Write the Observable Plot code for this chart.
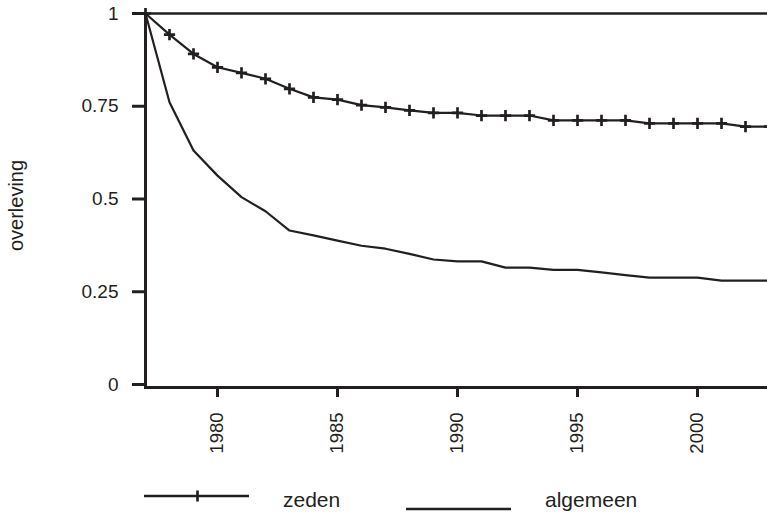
<!DOCTYPE html>
<html>
<head>
<meta charset="utf-8">
<script src="https://cdn.jsdelivr.net/npm/d3@7"></script>
<script src="https://cdn.jsdelivr.net/npm/@observablehq/plot@0.6"></script>
<style>
  body { margin: 0; background: #fff; overflow: hidden; font-family: "Liberation Sans", Arial, sans-serif; }
  #chart svg, #legend svg { display: block; }
</style>
</head>
<body>
<div id="chart"></div>
<div id="legend"></div>
<script>
const years = [1977, 1978, 1979, 1980, 1981, 1982, 1983, 1984, 1985, 1986, 1987, 1988, 1989,
               1990, 1991, 1992, 1993, 1994, 1995, 1996, 1997, 1998, 1999, 2000, 2001, 2002, 2003];
const zeden = [1, 0.943, 0.891, 0.855, 0.840, 0.824, 0.797, 0.774, 0.768, 0.753, 0.747, 0.739, 0.732,
               0.732, 0.725, 0.725, 0.725, 0.712, 0.712, 0.712, 0.712, 0.704, 0.704, 0.704, 0.704, 0.695, 0.695];
const algemeen = [1, 0.761, 0.631, 0.563, 0.505, 0.467, 0.415, 0.402, 0.388, 0.374, 0.366, 0.352, 0.337,
                  0.332, 0.332, 0.315, 0.315, 0.309, 0.309, 0.302, 0.295, 0.288, 0.288, 0.288, 0.280, 0.280, 0.280];
const xTicks = [1980, 1985, 1990, 1995, 2000];
const yTicks = [0, 0.25, 0.5, 0.75, 1];
const seriesNames = ["zeden", "algemeen"];
const yLabel = "overleving";

const ink = "#231f20";
const font = "'Liberation Sans', Arial, Helvetica, sans-serif";

const rowsZeden = years.map((year, i) => ({year, value: zeden[i]}));
const rowsAlgemeen = years.map((year, i) => ({year, value: algemeen[i]}));

const chart = Plot.plot({
  width: 767,
  height: 460,
  marginTop: 13,
  marginBottom: 73,
  marginLeft: 145,
  marginRight: 0,
  style: {fontFamily: font, color: ink, background: "#fff"},
  x: {domain: [1977, 2003], range: [145, 769]},
  y: {domain: [0, 1], insetBottom: 3},
  marks: [
    Plot.ruleY([1], {stroke: ink, strokeWidth: 2.5}),
    Plot.frame({anchor: "left", stroke: ink, strokeWidth: 3}),
    Plot.frame({anchor: "bottom", stroke: ink, strokeWidth: 3}),
    Plot.axisY({ticks: yTicks, tickSize: 13, stroke: ink, strokeWidth: 3, text: null, label: null}),
    Plot.text(yTicks, {
      y: d => d, text: d => String(d), frameAnchor: "left", textAnchor: "end",
      dx: -27, fontSize: 19, fill: ink
    }),
    Plot.text([yLabel], {
      text: d => d, frameAnchor: "left", textAnchor: "middle", rotate: -90,
      dx: -128.5, dy: 5, fontSize: 20, fill: ink
    }),
    Plot.axisX({ticks: xTicks, tickSize: 10, stroke: ink, strokeWidth: 3, text: null, label: null}),
    Plot.text(xTicks, {
      x: d => d, text: d => String(d), frameAnchor: "bottom", rotate: -90, textAnchor: "end",
      dy: 25, dx: 5, fontSize: 18.5, fill: ink
    }),
    Plot.line(rowsAlgemeen, {x: "year", y: "value", stroke: ink, strokeWidth: 2.2}),
    Plot.line(rowsZeden, {x: "year", y: "value", stroke: ink, strokeWidth: 2.2}),
    Plot.dot(rowsZeden, {x: "year", y: "value", symbol: "plus", r: 3.7, stroke: ink, strokeWidth: 2.7})
  ]
});
document.getElementById("chart").appendChild(chart);

// Legend below the chart
const leg = d3.select("#legend").append("svg").attr("width", 767).attr("height", 55);
const g1 = leg.append("g");
g1.append("line").attr("x1", 144).attr("x2", 249).attr("y1", 36).attr("y2", 36)
  .attr("stroke", ink).attr("stroke-width", 2.5);
g1.append("line").attr("x1", 197.5).attr("x2", 197.5).attr("y1", 30.5).attr("y2", 41.5)
  .attr("stroke", ink).attr("stroke-width", 2.7);
g1.append("text").attr("x", 283).attr("y", 47).text(seriesNames[0])
  .attr("font-family", font).attr("font-size", 21).attr("fill", ink);
const g2 = leg.append("g");
g2.append("line").attr("x1", 406).attr("x2", 511).attr("y1", 49).attr("y2", 49)
  .attr("stroke", ink).attr("stroke-width", 2.5);
g2.append("text").attr("x", 545).attr("y", 47).text(seriesNames[1])
  .attr("font-family", font).attr("font-size", 21).attr("fill", ink);
</script>
</body>
</html>
